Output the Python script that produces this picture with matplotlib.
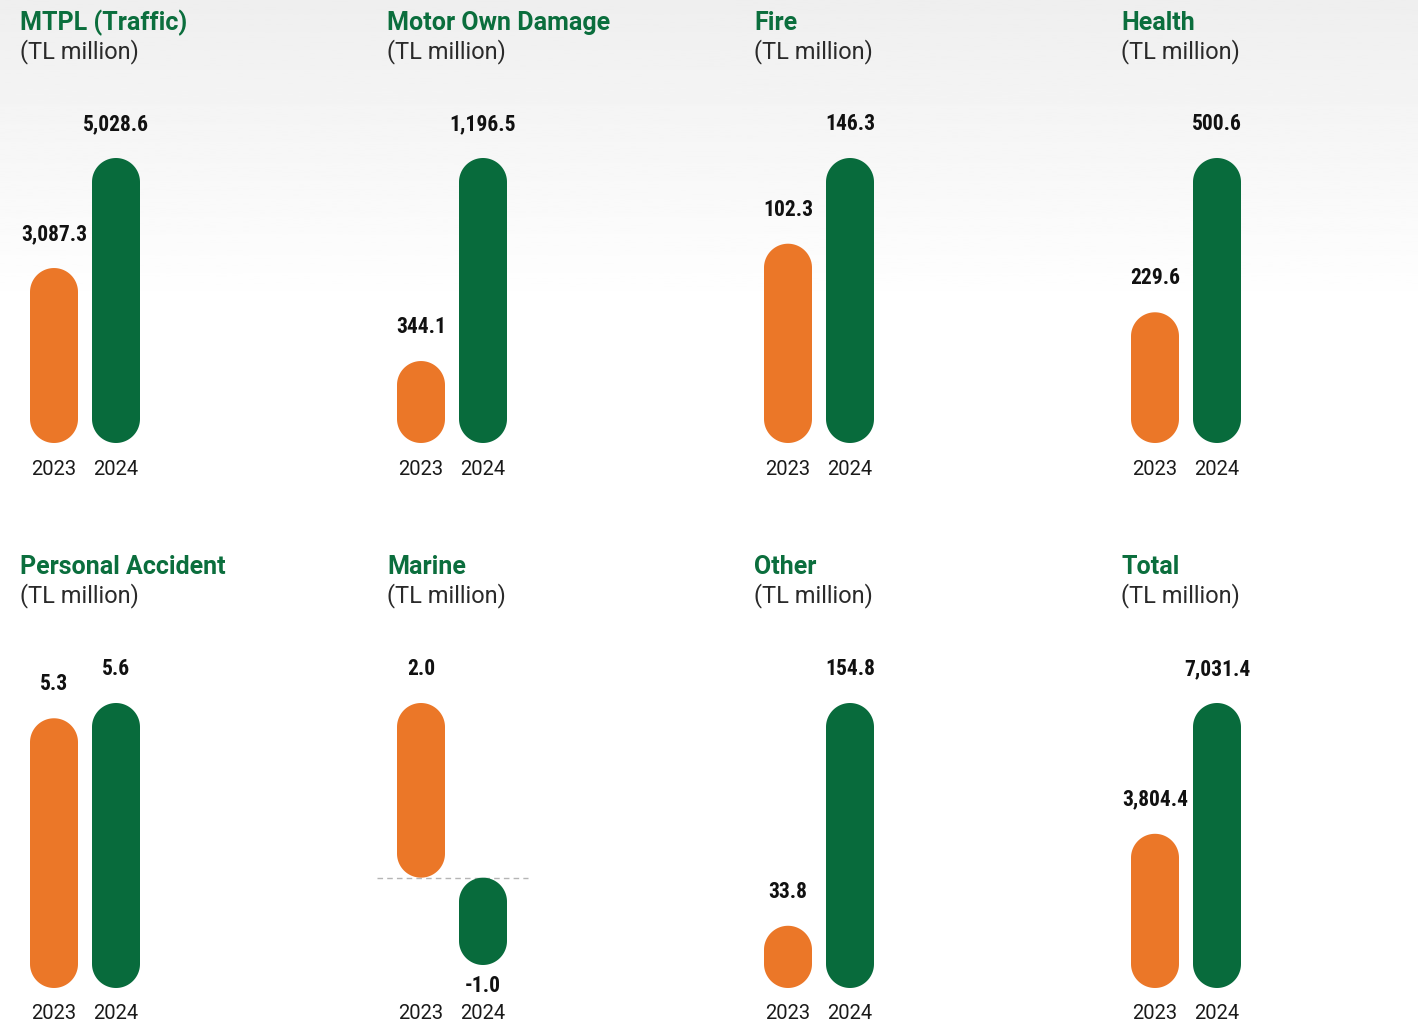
import numpy as np
import matplotlib.pyplot as plt
import matplotlib.transforms as mtransforms
from matplotlib import font_manager
from matplotlib.patches import Polygon

titles = ["MTPL (Traffic)", "Motor Own Damage", "Fire", "Health",
          "Personal Accident", "Marine", "Other", "Total"]
unit_label = "(TL million)"
years = ["2023", "2024"]
values_2023 = [3087.3, 344.1, 102.3, 229.6, 5.3, 2.0, 33.8, 3804.4]
values_2024 = [5028.6, 1196.5, 146.3, 500.6, 5.6, -1.0, 154.8, 7031.4]

ORANGE = "#EB7728"
GREEN = "#086B3C"
TITLE_GREEN = "#0B6E3D"

W, H = 1418, 1025


def pick_font(cands):
    names = {f.name for f in font_manager.fontManager.ttflist}
    for c in cands:
        if c in names:
            return c
    return "DejaVu Sans"


def capsule(x0, y0, w, h, ry):
    # pill shape: semicircle caps of radius w/2 (x) and ry (y, data units)
    xc = x0 + w / 2
    t = np.linspace(0, np.pi, 60)
    top = np.column_stack([xc + w / 2 * np.cos(t), y0 + h - ry + ry * np.sin(t)])
    t2 = np.linspace(np.pi, 2 * np.pi, 60)
    bot = np.column_stack([xc + w / 2 * np.cos(t2), y0 + ry + ry * np.sin(t2)])
    return np.vstack([top, bot])


title_font = pick_font(["Roboto", "Open Sans", "DejaVu Sans"])
value_font = pick_font(["Roboto Condensed", "Liberation Sans Narrow",
                        "DejaVu Sans Condensed", "Roboto"])
year_font = pick_font(["Roboto", "DejaVu Sans"])

fig = plt.figure(figsize=(W / 100, H / 100), dpi=100)

# soft grey wash at the top of the page
bg = fig.add_axes([0, 0, 1, 1], zorder=-10)
rows = np.linspace(0, 1, 400)
shade = np.clip(0.935 + 0.065 * rows / 0.3, 0, 1)
bg.imshow(shade[:, None], cmap="gray", vmin=0, vmax=1, aspect="auto",
          extent=[0, 1, 0, 1], origin="upper")
bg.axis("off")

col_x = [20, 387, 754, 1121]
row_top = [158, 703]
row_base = [443, 987]

for i, title in enumerate(titles):
    r, c = divmod(i, 4)
    vals = [values_2023[i], values_2024[i]]
    lo = min(0, min(vals))
    hi = max(vals)
    h_px = 285 if lo == 0 else 262

    left = col_x[c] + 3
    ax = fig.add_axes([left / W, 1 - (row_top[r] + h_px) / H, 124 / W, h_px / H])
    ax.set_xlim(-0.5, 1.5)
    ax.set_ylim(lo, hi)
    ax.axis("off")

    y_per_px = (hi - lo) / h_px
    ry = 24 * y_per_px

    bars = ax.bar([0, 1], vals, width=48 / 62, color=[ORANGE, GREEN])
    for b, color, v in zip(bars, [ORANGE, GREEN], vals):
        x0, w = b.get_x(), b.get_width()
        y0 = min(b.get_y(), b.get_y() + b.get_height())
        hh = abs(b.get_height())
        ax.add_patch(Polygon(capsule(x0, y0, w, hh, ry), closed=True,
                             fc=color, ec="none"))
        b.set_visible(False)
        off = 20.2 if v >= 0 else -19.4
        ax.annotate(f"{v:,.1f}", xy=(x0 + w / 2, v), xytext=(0, off),
                    textcoords="offset points", ha="center", va="baseline",
                    fontsize=15.5, fontweight="bold", family=value_font,
                    color="#111111", annotation_clip=False)

    if lo < 0:
        ax.plot([-0.71, 1.73], [0, 0], color="#b5b5b5", lw=1,
                ls=(0, (4, 3)), clip_on=False, zorder=0)

    trans = mtransforms.blended_transform_factory(ax.transData, fig.transFigure)
    for k, yr in enumerate(years):
        ax.text(k, 1 - (row_base[r] + 32) / H, yr, transform=trans,
                ha="center", va="baseline", fontsize=14.5, family=year_font,
                color="#1a1a1a")

    fig.text(col_x[c] / W, 1 - (30 + r * 544) / H, title, fontsize=18,
             fontweight="bold", family=title_font, color=TITLE_GREEN,
             va="baseline", ha="left")
    fig.text(col_x[c] / W, 1 - (58 + r * 544) / H, unit_label, fontsize=17,
             fontweight="normal", family=title_font, color="#2a2a2a",
             va="baseline", ha="left")

fig.savefig("out.png", dpi=100)
